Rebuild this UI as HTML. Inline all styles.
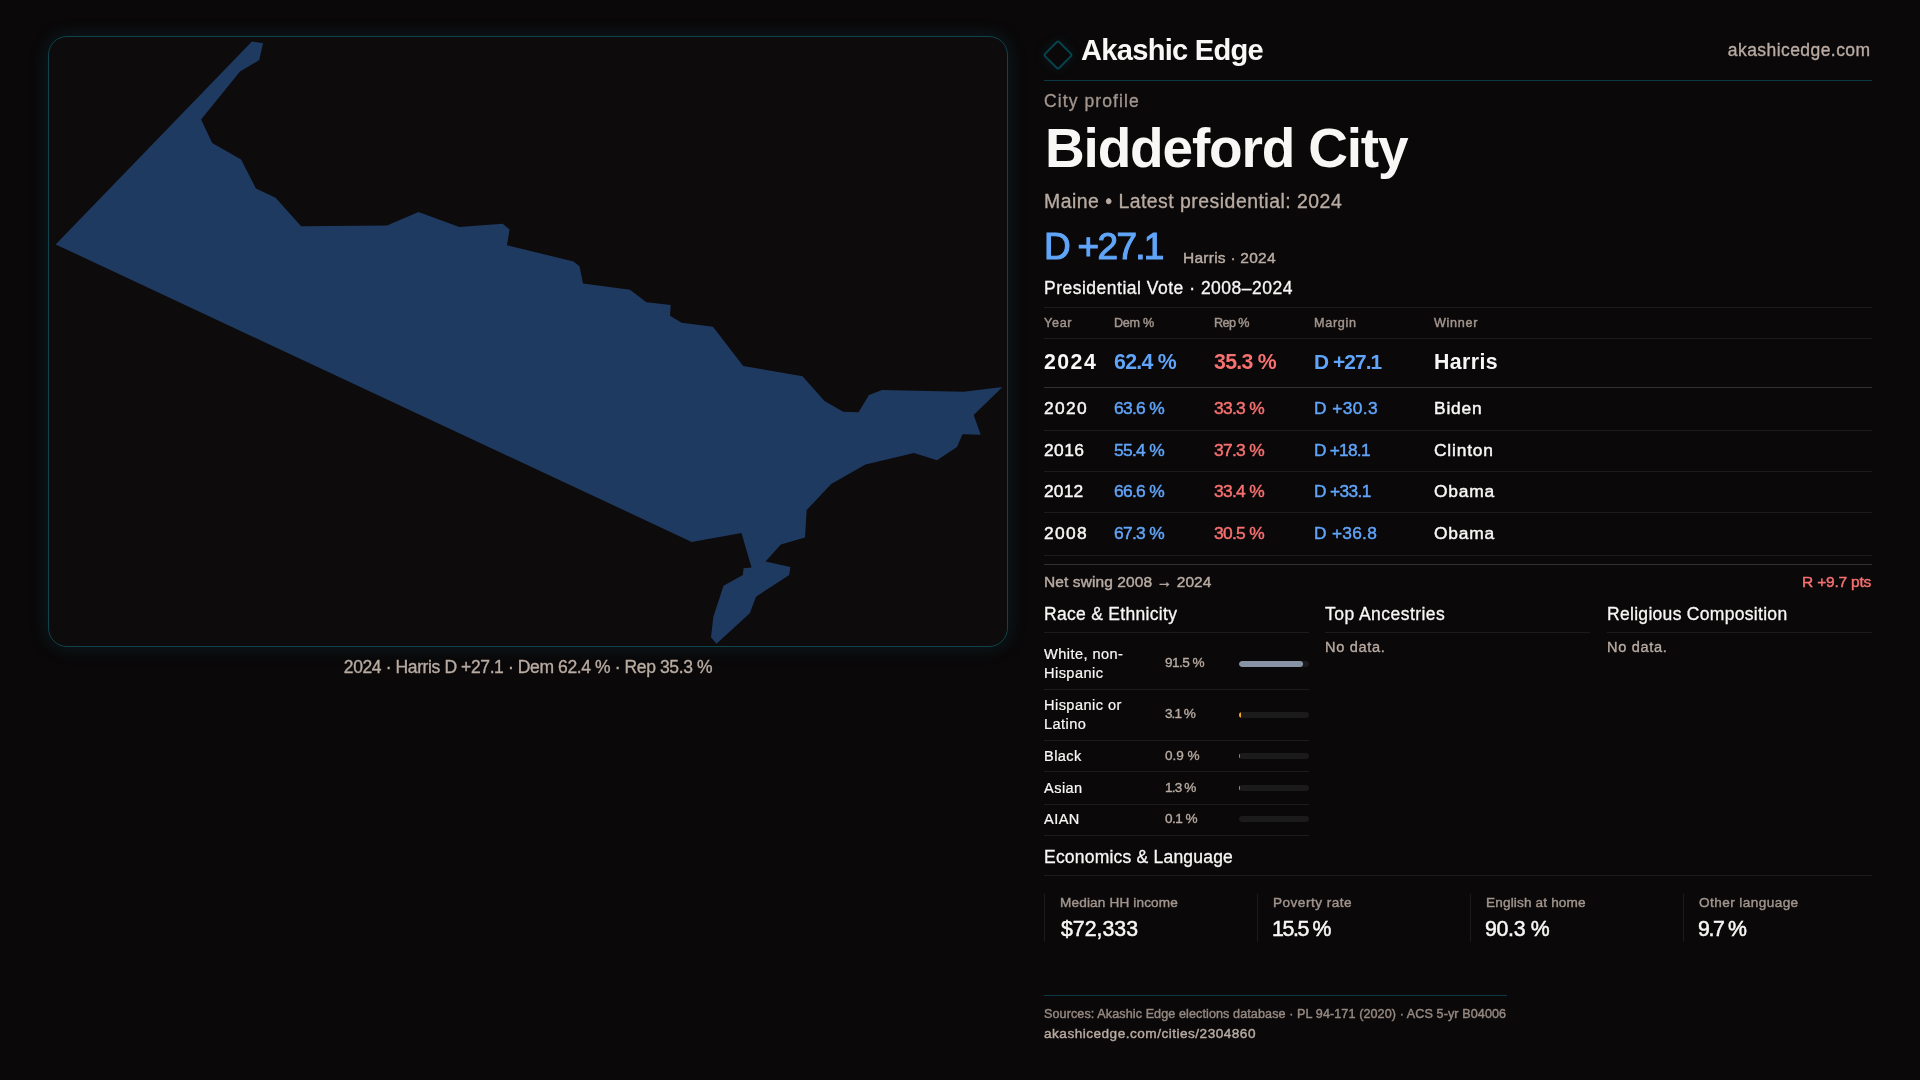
<!DOCTYPE html>
<html lang="en">
<head>
<meta charset="utf-8">
<title>Biddeford City — City profile | Akashic Edge</title>
<style>
*{box-sizing:border-box;margin:0;padding:0}
html,body{width:1920px;height:1080px;overflow:hidden}
body{background:#0a0809;color:#f8f7f5;font-family:"Liberation Sans",sans-serif;font-weight:400;position:relative;-webkit-text-stroke:.35px currentColor}
.muted{color:#b8aba2}
.dim{color:#a1958d}
.blue{color:#60a5fa}
.red{color:#f87171}
b,h1,.brand{font-weight:700;-webkit-text-stroke:0}

/* ---------- left column: map ---------- */
.map{position:absolute;left:48px;top:36px;width:960px;height:611px;border:1px solid #10434d;border-radius:19px;background:#0d0b0c;box-shadow:0 0 18px rgba(14,78,90,.32)}
.map svg{position:absolute;left:-1px;top:-1px;display:block}
.cap{will-change:transform;position:absolute;left:48px;top:655px;width:960px;text-align:center;font-size:17.5px;line-height:24px;letter-spacing:-.39px}

/* ---------- right column ---------- */
.info{position:absolute;left:1044px;top:0;width:828px;height:1080px;will-change:transform}
.info>*{position:absolute;left:0;white-space:nowrap}
.hr{width:828px;height:1px;background:#1e1b1d}

.brandbar{top:0;width:828px;height:81px;border-bottom:1px solid #0b3a45}
.brandbar>*{position:absolute}
.logo{left:3px;top:44.2px;width:22px;height:22px;border:2px solid #07434d;border-radius:3px;transform:rotate(45deg);box-shadow:0 0 12px rgba(12,92,108,.22)}
.brand{left:37px;top:31.5px;font-size:29.1px;line-height:36px;letter-spacing:-.73px}
.site{right:1.5px;top:39px;font-size:17.5px;line-height:22px;letter-spacing:.43px}
.kicker{top:90px;font-size:17.5px;line-height:22px;letter-spacing:1.09px}
h1{top:116px;left:1px!important;font-size:55px;line-height:64px;letter-spacing:-1.18px}
.sub{top:189.3px;font-size:19.4px;line-height:24px;letter-spacing:.5px}
.margin{top:224.7px;font-size:37px;line-height:44px;letter-spacing:-1.7px;-webkit-text-stroke:1.1px currentColor}
.who{left:139px!important;top:248px;font-size:15.5px;line-height:20px;letter-spacing:.25px;-webkit-text-stroke:.45px currentColor}
h2{font-size:17.5px;font-weight:400;line-height:22px;letter-spacing:.3px;-webkit-text-stroke:.3px currentColor}
.pvh{top:277.4px;letter-spacing:.5px}

/* presidential vote table */
table.pv{top:307px;width:828px;border-collapse:separate;border-spacing:0;border-top:1px solid #1e1b1d;table-layout:fixed}
.pv th,.pv td{text-align:left;vertical-align:middle;border-bottom:1px solid #1e1b1d;padding:0 0 2px;white-space:nowrap}
.pv th{height:31px;font-size:12.6px;font-weight:400;line-height:16px;letter-spacing:.7px;color:#a1958d;padding-bottom:1px;-webkit-text-stroke:.45px currentColor}
.pv th.p{letter-spacing:-.3px}
.pv td{height:41px;font-size:17.4px;line-height:22px;-webkit-text-stroke:.45px currentColor}
.pv tr.tall td{height:43px}
.pv td.y{letter-spacing:.5px}
.pv td.p{letter-spacing:-.7px}
.pv td.m{font-size:17.3px;letter-spacing:-.2px}
.pv td.w{letter-spacing:.8px}
.pv .latest td{height:49px;font-size:21.3px;font-weight:700;-webkit-text-stroke:0;line-height:28px;border-bottom-color:#323032;padding-bottom:3px}
.pv .latest td.y{letter-spacing:1.45px}
.pv .latest td.p{letter-spacing:-.7px}
.pv .latest td.m{font-size:20.9px;letter-spacing:-.94px}
.pv .latest td.w{letter-spacing:.4px}
.swing{top:564px;width:828px;height:36px;border-top:1px solid #323032;font-size:15.5px;line-height:20px;-webkit-text-stroke:.45px currentColor}
.swing span{position:absolute;top:7px}
.swing .l{left:0;letter-spacing:.1px}
.swing .r{right:1px;letter-spacing:-.22px}

/* three-up cards */
.col{top:600px;width:265px;height:240px}
.col.c2{left:281px}
.col.c3{left:563px}
.col>*{position:absolute;left:0;white-space:nowrap}
.col h2{top:2.5px}
.col .rule{top:32px;width:265px;height:1px;background:#1e1b1d}
.nodata{top:38px;font-size:14.55px;line-height:18px;letter-spacing:.7px}
.race{top:39px;width:265px;list-style:none}
.race li{position:relative;width:265px;height:32px;border-bottom:1px solid #1e1b1d}
.race li.two{height:51px}
.race li:nth-child(3),.race li:nth-child(5){height:31px}
.race li:nth-child(4){height:33px}
.race .lab{-webkit-text-stroke:.22px currentColor;position:absolute;left:0;top:6px;font-size:14.55px;line-height:19px;letter-spacing:.45px}
.race .val{position:absolute;left:121px;top:5px;font-size:13.6px;line-height:19px;letter-spacing:-.55px}
.race .two .val{top:13.5px}
.race .bar{position:absolute;left:195px;top:12px;width:70px;height:6px;border-radius:3px;background:#1c1b1c;overflow:hidden}
.race .two .bar{top:22px}
.race li:nth-child(5) .lab{top:5px}
.race li:nth-child(5) .val{top:4px}
.race li:nth-child(4) .lab{top:7px}
.race li:nth-child(4) .val{top:6px}
.race li:nth-child(4) .bar{top:13px}
.race li:nth-child(5) .bar{top:11px}
.race .bar i{display:block;height:6px;border-radius:3px}
/* economics */
.econ{top:845.5px;letter-spacing:.21px}
.econrule{top:875px}
.stats{top:894px;width:828px;height:48px;list-style:none}
.stats li{position:absolute;top:0;width:189px;height:48px;border-left:1px solid #1e1b1d}
.stats li:nth-child(2){left:213px}
.stats li:nth-child(3){left:426px}
.stats li:nth-child(4){left:639px}
.stats .k{-webkit-text-stroke:.42px currentColor;position:absolute;left:15px;top:-.2px;font-size:13.6px;line-height:18px;letter-spacing:.15px}
.stats .v{-webkit-text-stroke:.5px currentColor;position:absolute;left:14px;top:21px;font-size:21.3px;line-height:28px;letter-spacing:-1.1px}
.stats .v.usd{letter-spacing:0;left:16px}
/* footer */
footer{top:995px;width:463px;height:60px;border-top:1px solid #0b3a45}
footer p{position:absolute;left:0;white-space:nowrap;-webkit-text-stroke:.42px currentColor}
.src{color:#958981;top:9.5px;font-size:12.6px;line-height:16px;letter-spacing:.09px}
.url{top:29.3px;font-size:13.6px;line-height:18px;letter-spacing:.49px}
</style>
</head>
<body>

<figure class="map">
<svg width="960" height="611" viewBox="48 36 960 611" role="img" aria-label="Biddeford City boundary"><polygon fill="#1f3a60" points="251.9,41.5 263,43.3 259.3,60 240,71.5 201.1,119.6 212.2,143 241.1,159.6 255.9,188.5 275.6,197.8 301.1,226.3 387,225.6 418.5,211.9 459.3,227 502.6,223.7 509.6,229.6 507,245.2 573.5,261.5 579.5,266.2 583,283.5 630,289.7 646.5,302.2 670.7,305 670,315.7 681.7,322.7 713,326.7 743.2,366 802.5,376.2 824.5,401 843.2,411.7 858.5,412.2 869,395 882,390 963.7,391.7 1002.5,387 973.7,415 980.7,434.7 962.5,434.2 957,447 937,460.3 914,453 865.5,464.6 831.2,484 806.7,510 805,537.5 780.8,544.6 765.6,561.5 790.4,567.1 789.2,575 756,596.7 749.8,613.3 716.5,643.7 711,637.3 713.3,617.1 723.5,585.8 742.9,575 743.5,568.3 751.5,567.5 741.5,533.1 691.7,541.9 55.6,244.4"/></svg>
</figure>
<p class="cap muted t" id="cap">2024 · Harris D +27.1 · Dem 62.4 % · Rep 35.3 %</p>

<section class="info">
<header class="brandbar">
  <span class="logo" aria-hidden="true"></span>
  <span class="brand t" id="brand">Akashic Edge</span>
  <span class="site muted t" id="site">akashicedge.com</span>
</header>
<p class="kicker dim t" id="kicker">City profile</p>
<h1 class="t" id="title">Biddeford City</h1>
<p class="sub muted t" id="sub">Maine • Latest presidential: 2024</p>
<p class="margin blue t" id="margin">D +27.1</p>
<p class="who muted t" id="marginsub">Harris · 2024</p>
<h2 class="pvh t" id="pvh">Presidential Vote · 2008–2024</h2>
<table class="pv">
  <colgroup><col style="width:70px"><col style="width:100px"><col style="width:100px"><col style="width:120px"><col></colgroup>
  <thead><tr><th><span class="t" id="th0">Year</span></th><th class="p"><span class="t" id="th1">Dem %</span></th><th class="p" style="letter-spacing:-.6px"><span class="t" id="th2">Rep %</span></th><th><span class="t" id="th3">Margin</span></th><th><span class="t" id="th4">Winner</span></th></tr></thead>
  <tbody>
  <tr class="latest"><td class="y"><span class="t" id="r0c0">2024</span></td><td class="p blue"><span class="t" id="r0c1">62.4 %</span></td><td class="p red"><span class="t" id="r0c2">35.3 %</span></td><td class="m blue"><span class="t" id="r0c3">D +27.1</span></td><td class="w"><span class="t" id="r0c4">Harris</span></td></tr>
  <tr class="tall"><td class="y" style="letter-spacing:1.3px"><span class="t" id="r1c0">2020</span></td><td class="p blue"><span class="t" id="r1c1">63.6 %</span></td><td class="p red"><span class="t" id="r1c2">33.3 %</span></td><td class="m blue" style="letter-spacing:.45px"><span class="t" id="r1c3">D +30.3</span></td><td class="w"><span class="t" id="r1c4">Biden</span></td></tr>
  <tr><td class="y" style="letter-spacing:.4px"><span class="t" id="r2c0">2016</span></td><td class="p blue"><span class="t" id="r2c1">55.4 %</span></td><td class="p red"><span class="t" id="r2c2">37.3 %</span></td><td class="m blue" style="letter-spacing:-.75px"><span class="t" id="r2c3">D +18.1</span></td><td class="w"><span class="t" id="r2c4">Clinton</span></td></tr>
  <tr><td class="y" style="letter-spacing:.2px"><span class="t" id="r3c0">2012</span></td><td class="p blue"><span class="t" id="r3c1">66.6 %</span></td><td class="p red"><span class="t" id="r3c2">33.4 %</span></td><td class="m blue" style="letter-spacing:-.6px"><span class="t" id="r3c3">D +33.1</span></td><td class="w"><span class="t" id="r3c4">Obama</span></td></tr>
  <tr class="tall"><td class="y" style="letter-spacing:1.3px"><span class="t" id="r4c0">2008</span></td><td class="p blue"><span class="t" id="r4c1">67.3 %</span></td><td class="p red"><span class="t" id="r4c2">30.5 %</span></td><td class="m blue" style="letter-spacing:.3px"><span class="t" id="r4c3">D +36.8</span></td><td class="w"><span class="t" id="r4c4">Obama</span></td></tr>
  </tbody>
</table>
<div class="swing"><span class="l muted t" id="swing">Net swing 2008 → 2024</span><span class="r red t" id="swingv">R +9.7 pts</span></div>
<section class="col c1">
  <h2 class="t" id="h3_0">Race &amp; Ethnicity</h2><div class="rule"></div>
  <ul class="race">
    <li class="two"><span class="lab"><span class="t" id="rl0_0">White, non-</span><br><span class="t" id="rl0_1">Hispanic</span></span><span class="val muted t" id="rv0">91.5 %</span><span class="bar"><i style="width:64px;background:#8893a6"></i></span></li>
    <li class="two"><span class="lab"><span class="t" id="rl1_0">Hispanic or</span><br><span class="t" id="rl1_1">Latino</span></span><span class="val muted t" id="rv1" style="letter-spacing:-.95px">3.1 %</span><span class="bar"><i style="width:2.2px;background:#f5a524"></i></span></li>
    <li><span class="lab t" id="rl2_0">Black</span><span class="val muted t" id="rv2" style="letter-spacing:-.05px">0.9 %</span><span class="bar"><i style="width:1px;background:#8b7fd6"></i></span></li>
    <li><span class="lab t" id="rl3_0">Asian</span><span class="val muted t" id="rv3" style="letter-spacing:-.85px">1.3 %</span><span class="bar"><i style="width:1px;background:#34c9a0"></i></span></li>
    <li><span class="lab t" id="rl4_0">AIAN</span><span class="val muted t" id="rv4">0.1 %</span><span class="bar"><i style="width:0"></i></span></li>
  </ul>
</section>
<section class="col c2">
  <h2 class="t" id="h3_1" style="letter-spacing:.46px">Top Ancestries</h2><div class="rule"></div>
  <p class="nodata muted t" id="nd1">No data.</p>
</section>
<section class="col c3">
  <h2 class="t" id="h3_2">Religious Composition</h2><div class="rule"></div>
  <p class="nodata muted t" id="nd2">No data.</p>
</section>
<h2 class="econ t" id="econ">Economics &amp; Language</h2>
<div class="hr econrule"></div>
<ul class="stats">
  <li><span class="k dim t" id="sl0">Median HH income</span><span class="v usd t" id="sv0">$72,333</span></li>
  <li><span class="k dim t" id="sl1" style="letter-spacing:.48px">Poverty rate</span><span class="v t" id="sv1" style="letter-spacing:-1.35px">15.5 %</span></li>
  <li><span class="k dim t" id="sl2">English at home</span><span class="v t" id="sv2" style="letter-spacing:-.3px">90.3 %</span></li>
  <li><span class="k dim t" id="sl3" style="letter-spacing:.42px">Other language</span><span class="v t" id="sv3" style="letter-spacing:-1.35px">9.7 %</span></li>
</ul>
<footer>
  <p class="src dim t" id="src">Sources: Akashic Edge elections database · PL 94-171 (2020) · ACS 5-yr B04006</p>
  <p class="url muted t" id="url">akashicedge.com/cities/2304860</p>
</footer>
</section>

</body>
</html>
